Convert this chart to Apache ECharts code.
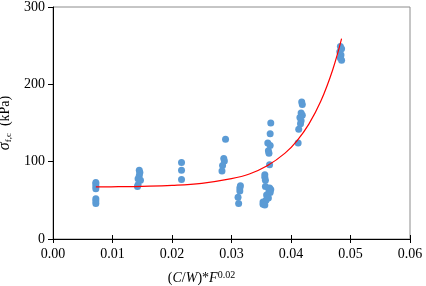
<!DOCTYPE html>
<html>
<head>
<meta charset="utf-8">
<script src="https://cdn.jsdelivr.net/npm/echarts@6/dist/echarts.min.js"></script>
<style>
html,body{margin:0;padding:0;background:#fff;}
#main{width:426px;height:286px;}
</style>
</head>
<body>
<div id="main"></div>
<script>
// measured points: x = (C/W)*F^0.02, y = sigma f,c (kPa)
var pointX = [
  0.0072,0.0072,0.0072,0.0072,0.0072,0.0072,0.0072,
  0.0145,0.0146,0.0145,0.0143,0.0147,0.0143,0.0142,
  0.0216,0.0216,0.0216,
  0.0290,0.0287,0.0288,0.0285,0.0284,
  0.0315,0.0314,0.0314,0.0311,0.0312,
  0.0366,0.0365,0.0361,0.0365,0.0362,0.0363,0.0364,
  0.0356,0.0356,0.0357,0.0357,0.0364,0.0366,0.0363,0.0365,0.0359,0.0362,0.0358,0.0353,0.0353,0.0356,
  0.0418,0.0419,0.0417,0.0419,0.0415,0.0417,0.0416,0.0413,0.0412,
  0.0483,0.0485,0.0482,0.0484,0.0483,0.0485
];
var pointY = [
  73,71,68,65,52,49,46,
  89,86,82,78,76,70,68,
  99,89,77,
  129,104,101,95,88,
  69,66,62,54,46,
  150,136,124,121,114,111,96,
  83,80,76,68,66,64,62,60,57,53,50,48,45,44,
  177,174,163,160,157,153,149,142,124,
  249,246,242,238,234,231
];

// fitted curve
var curveX = [0.0072,0.0110,0.0150,0.0200,0.0250,0.0300,0.0330,0.0360,0.0390,0.0410,0.0430,0.0450,0.0470,0.0485];
var curveY = [67.3,67.6,68.1,69.3,72,78,84,94.6,111,127,148.6,178,218.6,259];

var xTicks = [0,0.01,0.02,0.03,0.04,0.05,0.06];
var yTicks = [0,100,200,300];

var points = pointX.map(function(x,i){ return [x,pointY[i]]; });
var curve = curveX.map(function(x,i){ return [x,curveY[i]]; });

var serif = 'Liberation Serif';
var labRich = {a:{fontFamily:serif, fontSize:14, color:'#000'}};
var myChart = echarts.init(document.getElementById('main'));
myChart.setOption({
  animation: false,
  textStyle: {fontFamily: serif},
  grid: {left:53, right:16, top:7, bottom:47, outerBoundsMode:'none', containLabel:false,
    show:true, borderColor:'#8c8c8c', borderWidth:1},
  xAxis: [{
    type:'value', min:0, max:0.06, interval:0.01,
    axisLine:{lineStyle:{color:'#000',width:1}},
    axisTick:{inside:false, length:4, lineStyle:{color:'#000'}},
    splitLine:{show:false},
    axisLabel:{color:'#000', fontFamily:serif, fontSize:14, margin:8, rich:labRich,
      formatter:function(v){ return '{a|' + v.toFixed(2) + '}'; }},
    name:'({i|C}/{i|W})*{i|F}{sup|0.02}',
    nameLocation:'middle', nameGap:31,
    nameTextStyle:{color:'#000', fontFamily:serif, fontSize:14, padding:[0,60,0,0],
      rich:{
        i:{fontStyle:'italic', fontFamily:serif, fontSize:14, color:'#000'},
        sup:{fontFamily:serif, fontSize:10, color:'#000', padding:[0,0,7,0]}
      }}
  },{
    type:'value', min:0, max:0.06, interval:0.01, position:'bottom',
    axisLine:{show:false}, axisLabel:{show:false}, splitLine:{show:false},
    axisTick:{inside:true, length:4, lineStyle:{color:'#000'}}
  }],
  yAxis: {
    type:'value', min:0, max:300, interval:100,
    axisLine:{show:true, lineStyle:{color:'#000',width:1}},
    axisTick:{show:true, length:5, lineStyle:{color:'#000'}},
    splitLine:{show:false},
    axisLabel:{color:'#000', fontFamily:serif, fontSize:14, margin:8, rich:labRich,
      formatter:function(v){ return '{a|' + v + '}'; }},
    name:'{s|σ}{sub|f,c}{t|  (kPa)}',
    nameLocation:'middle', nameGap:30, nameRotate:90,
    nameTextStyle:{
      fontFamily:serif,
      rich:{
        s:{fontStyle:'italic', fontFamily:serif, fontSize:16, color:'#000'},
        sub:{fontFamily:serif, fontSize:9, color:'#000', padding:[7,0,0,0]},
        t:{fontFamily:serif, fontSize:14, color:'#000'}
      }}
  },
  series: [{
    type:'scatter', data:points, symbolSize:7,
    itemStyle:{color:'#5b9bd5', opacity:1}
  },{
    type:'line', data:curve, smooth:0.4, showSymbol:false, symbol:'none',
    lineStyle:{color:'#ff0000', width:1.2}, z:3
  }]
});
</script>
</body>
</html>
